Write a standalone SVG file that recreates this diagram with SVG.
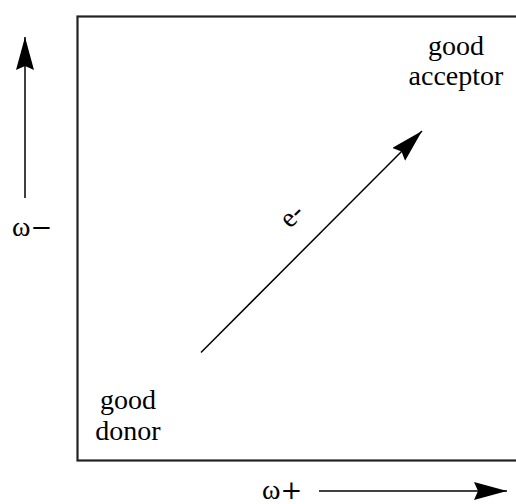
<svg xmlns="http://www.w3.org/2000/svg" width="516" height="504" viewBox="0 0 516 504">
<style>
text{font-family:"Liberation Serif","Times New Roman",serif;fill:#000;font-size:28px}
.big{font-family:"DejaVu Serif",serif;font-size:26px}
.ln{stroke:#000;stroke-width:1.5;fill:none}
.box{stroke:#222;stroke-width:2.2;fill:none}
</style>
<defs>
<marker id="ah" markerUnits="userSpaceOnUse" markerWidth="36" markerHeight="20" refX="33" refY="9" orient="auto" viewBox="0 0 36 20">
<path d="M0,0 L33,9 L0,18 L4,9 Z" fill="#000"/>
</marker>
</defs>
<g id="frame"><rect class="box" x="77.5" y="16.5" width="450" height="444"/></g>
<g id="connectors">
<line class="ln" x1="25" y1="198" x2="25" y2="37" marker-end="url(#ah)"/>
<line class="ln" x1="319" y1="491" x2="507" y2="491" marker-end="url(#ah)"/>
<line class="ln" x1="201" y1="352.5" x2="422" y2="131" marker-end="url(#ah)"/>
</g>
<g id="acceptor"><text x="456" y="55" text-anchor="middle">good</text><text x="456" y="85" text-anchor="middle">acceptor</text></g>
<g id="donor"><text x="128" y="409" text-anchor="middle">good</text><text x="128" y="440" text-anchor="middle">donor</text></g>
<g id="labels">
<text x="12" y="236">ω<tspan class="big">−</tspan></text>
<text x="262" y="499">ω<tspan class="big">+</tspan></text>
<text x="292" y="224" text-anchor="middle" transform="rotate(-45 292 216)">e-</text>
</g>
</svg>
